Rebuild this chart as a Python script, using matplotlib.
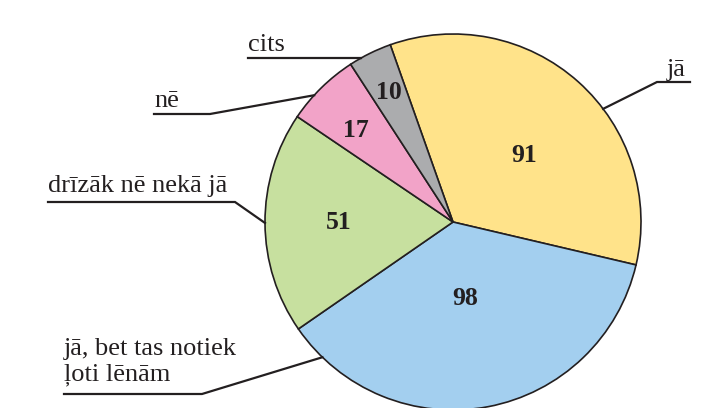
import matplotlib.pyplot as plt
import numpy as np

# dati
labels = ["jā", "jā, bet tas notiek\nļoti lēnām", "drīzāk nē nekā jā", "nē", "cits"]
values = [91, 98, 51, 17, 10]
colors = ["#FFE38A", "#A3CFEF", "#C7E09F", "#F2A3C8", "#ABACAE"]

W, H = 702, 408
cx, cy, R = 453, H - 222, 188
ink = "#231f20"
serif = "Liberation Serif"

fig = plt.figure(figsize=(W / 100, H / 100), dpi=100)
ax = fig.add_axes([0, 0, 1, 1])
ax.set_xlim(0, W)
ax.set_ylim(0, H)
ax.set_aspect("equal")
ax.axis("off")

wedges, _ = ax.pie(
    values,
    colors=colors,
    startangle=109.5,
    counterclock=False,
    center=(cx, cy),
    radius=R,
    wedgeprops=dict(edgecolor=ink, linewidth=1.2),
)
ax.set_xlim(0, W)
ax.set_ylim(0, H)

# skaitļi
num_r = [0.52, 0.41, 0.61, 0.71, 0.77]
num_shift = [-5, -2, 0, 2, 0]
for w, v, r, s in zip(wedges, values, num_r, num_shift):
    a = np.deg2rad((w.theta1 + w.theta2) / 2 + s)
    ax.text(cx + r * R * np.cos(a), cy + r * R * np.sin(a), str(v),
            ha="center", va="center", fontsize=18.5, fontweight="bold",
            family=serif, color=ink)

# izvilkumi: leņķis uz malas, līnijas sākums, lūzums, teksta pozīcija
leaders = [
    (37.0, (690, 82), (657, 82), (676, 76), "center"),
    (226.0, (64, 394), (202, 394), (64, 380), "left"),
    (180.3, (48, 202), (235, 202), (48, 192), "left"),
    (137.6, (154, 114), (210, 114), (154, 107), "left"),
    (119.3, (248, 58), (361, 58), (248, 51), "left"),
]
for lab, (ang, p0, p1, tp, ha) in zip(labels, leaders):
    a = np.deg2rad(ang)
    ex, ey = cx + R * np.cos(a), cy + R * np.sin(a)
    ax.plot([p0[0], p1[0], ex], [H - p0[1], H - p1[1], ey],
            color=ink, lw=1.6, solid_joinstyle="miter")
    ax.text(tp[0], H - tp[1], lab, ha=ha, va="baseline", fontsize=19,
            family=serif, color=ink, linespacing=1.2)

plt.savefig("out.png", dpi=100)
